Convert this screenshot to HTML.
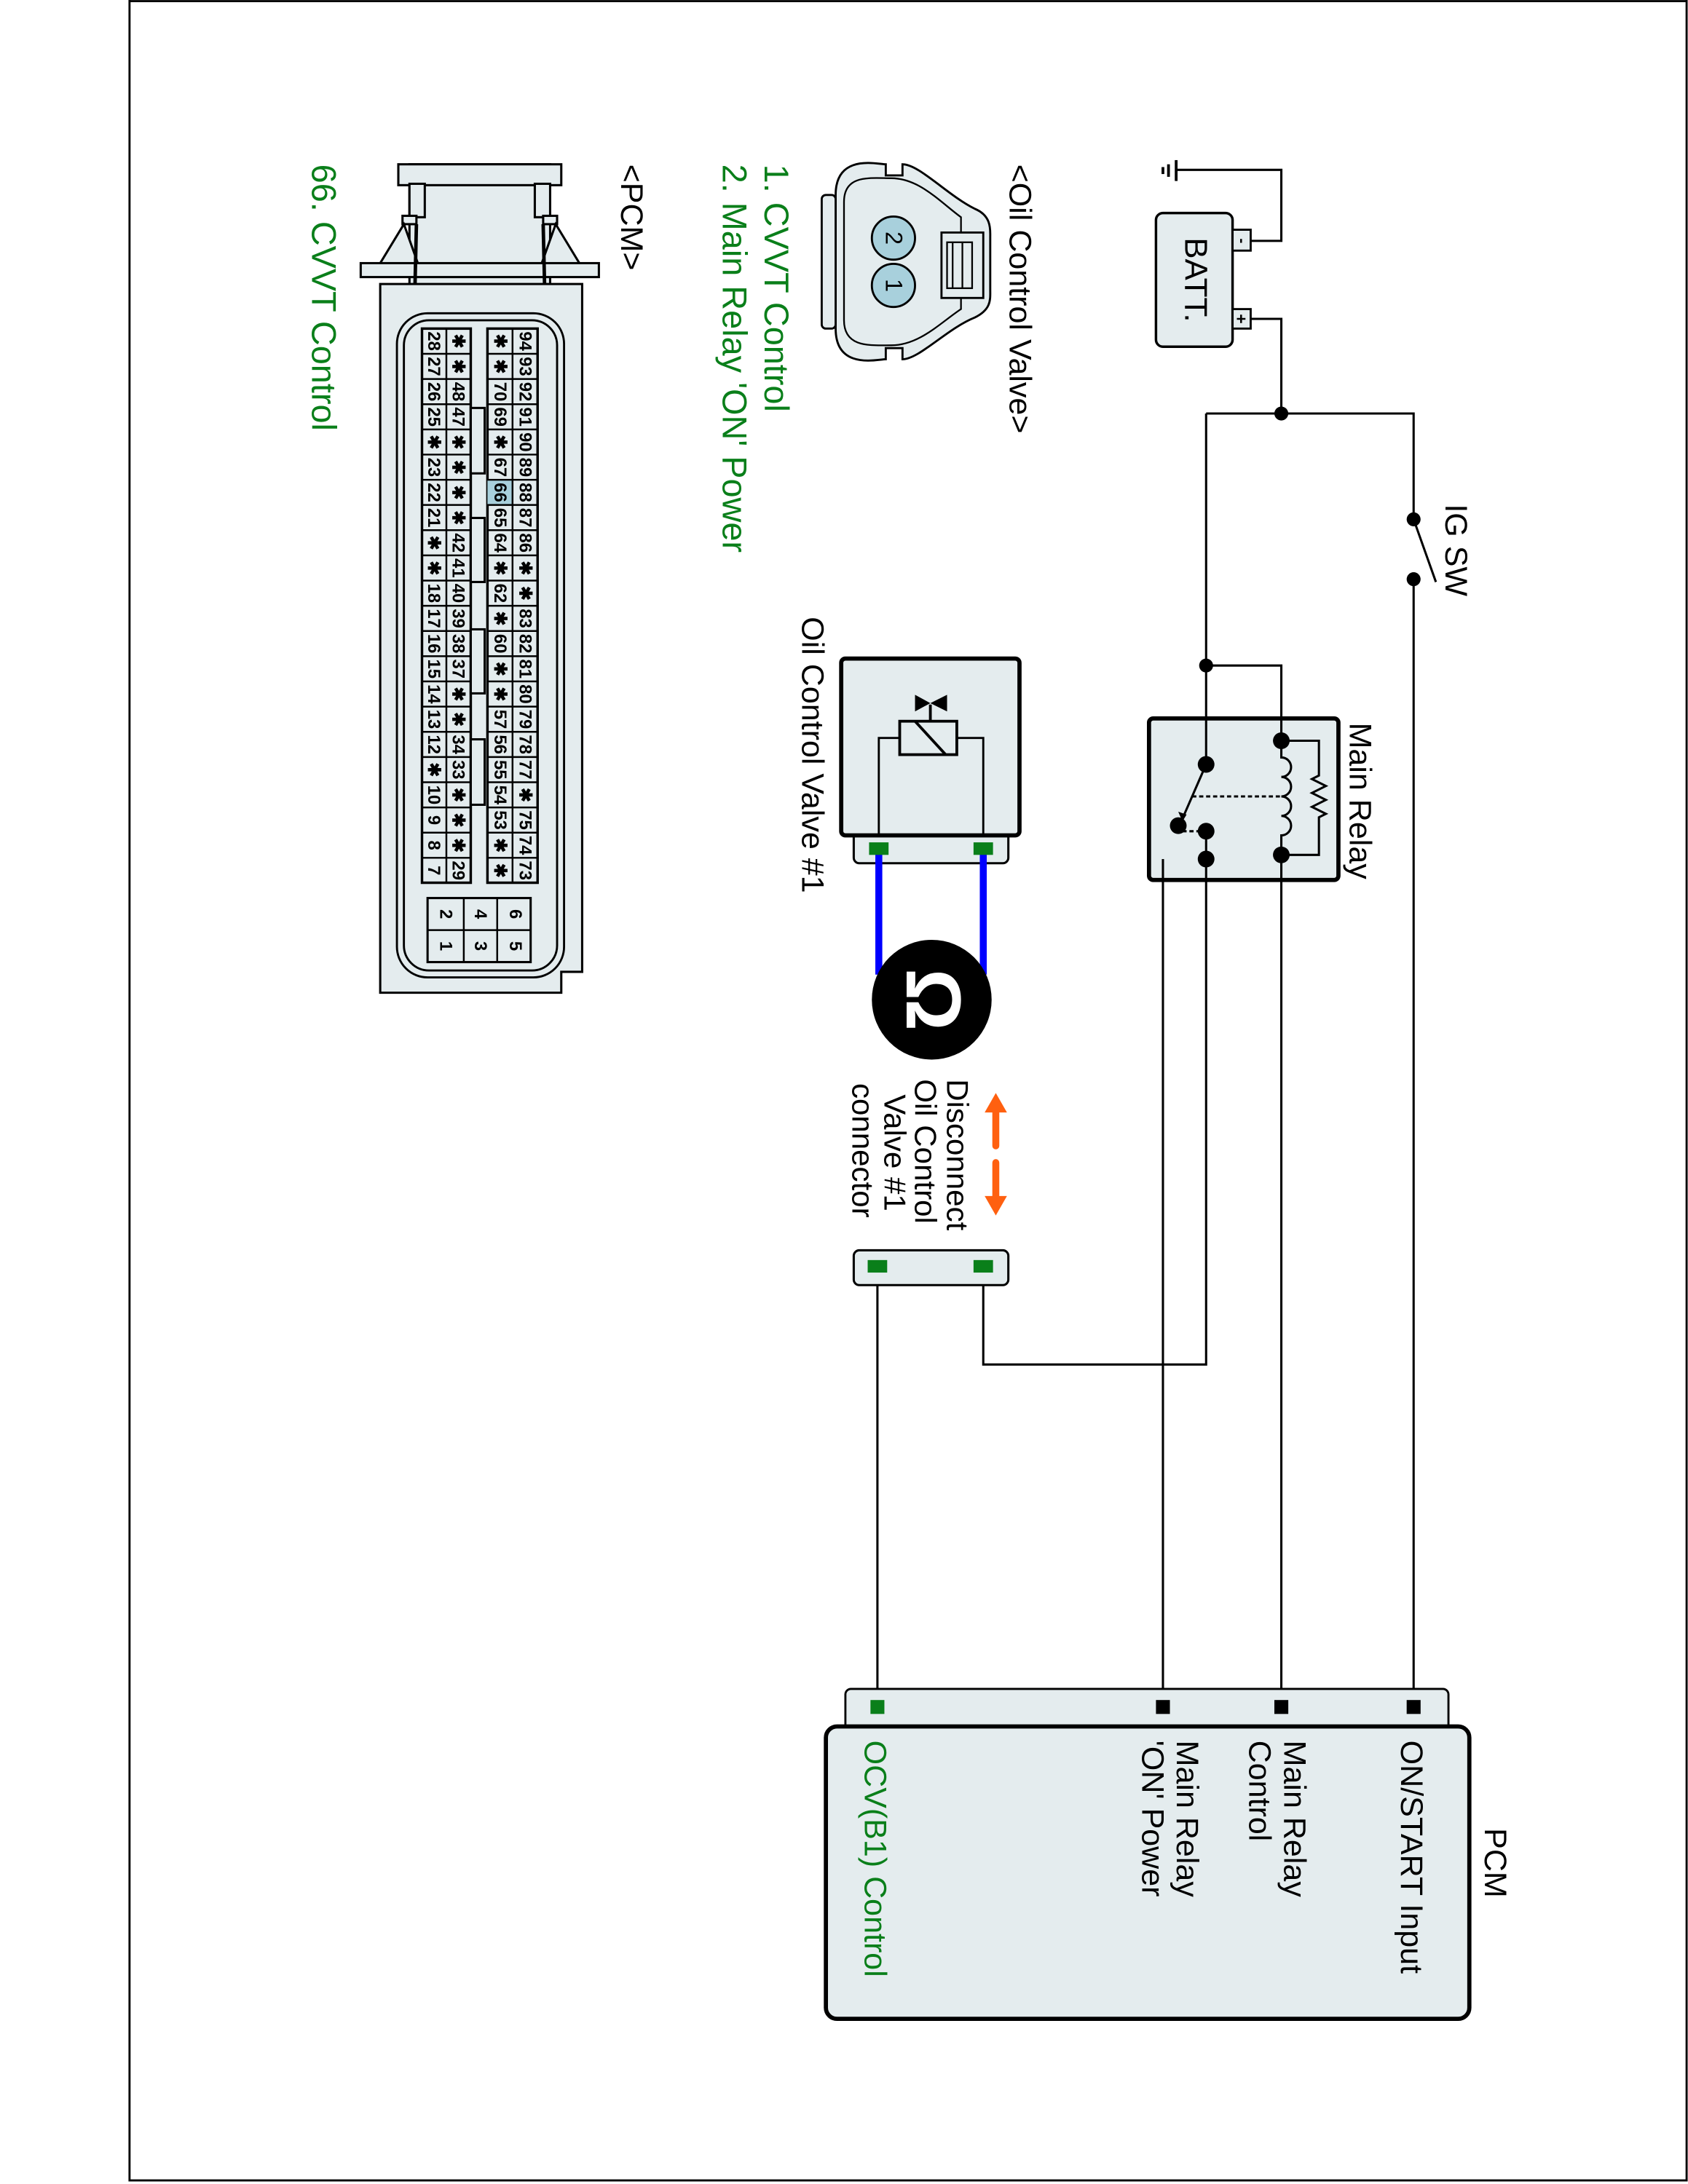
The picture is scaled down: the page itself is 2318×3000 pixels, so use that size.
<!DOCTYPE html>
<html><head><meta charset="utf-8"><style>
html,body{margin:0;padding:0;background:#fff;}
svg{display:block;}
text{font-family:"Liberation Sans",Arial,sans-serif;}
</style></head><body>
<svg width="2318" height="3000" viewBox="0 0 1212 1568.6" preserveAspectRatio="none" xmlns="http://www.w3.org/2000/svg">
<rect x="0" y="0" width="1212" height="1568.6" fill="#fff"/>
<path d="M93,0 V1566 H1211 V0" fill="none" stroke="#000" stroke-width="1.5"/>
<line x1="93" y1="0.8" x2="1211" y2="0.8" stroke="#000" stroke-width="1.5"/>

<g stroke="#000" stroke-width="1.6" fill="none">
<path d="M844.5,122 H920 V173 H898"/>
<line x1="844.5" y1="115" x2="844.5" y2="130" stroke-width="2"/>
<line x1="839" y1="118" x2="839" y2="127" stroke-width="2"/>
<line x1="835" y1="120" x2="835" y2="125" stroke-width="2"/>
<path d="M898,229 H920 V297"/>
<path d="M866,297 H1015 V373"/>
<path d="M1015,416 V1226"/>
<line x1="1015" y1="373" x2="1031" y2="418"/>
<path d="M866,297 V549"/>
<path d="M866,478 H920 V532"/>
<path d="M866,549 V617"/>
<path d="M866,617 V980 H706 V910"/>
<path d="M866,617 H835 V1226"/>
<path d="M920,614 V1226"/>
<path d="M630,910 V1226"/>
</g>

<rect x="830" y="153" width="55" height="96" rx="5" fill="#e4ecee" stroke="#000" stroke-width="1.8"/>
<rect x="885" y="165" width="13" height="15" fill="#e4ecee" stroke="#000" stroke-width="1.5"/>
<rect x="885" y="222" width="13" height="14" fill="#e4ecee" stroke="#000" stroke-width="1.5"/>
<text transform="translate(888,173) rotate(90)" font-size="11" text-anchor="middle" font-weight="bold">-</text>
<text transform="translate(887,229) rotate(90)" font-size="12" text-anchor="middle" font-weight="bold">+</text>
<text transform="translate(851,201) rotate(90)" font-size="23" text-anchor="middle">BATT.</text>

<g fill="#000">
<circle cx="920" cy="297" r="5"/>
<circle cx="1015" cy="373" r="5"/>
<circle cx="1015" cy="416" r="5"/>
<circle cx="866" cy="478" r="5"/>
</g>
<text transform="translate(1038,362) rotate(90)" font-size="22.5">IG SW</text>

<rect x="825" y="516" width="136" height="116" rx="3" fill="#e4ecee" stroke="#000" stroke-width="3"/>
<g stroke="#000" stroke-width="1.6" fill="none">
<line x1="866" y1="516" x2="866" y2="549"/>
<line x1="920" y1="516" x2="920" y2="532"/>
<path d="M920,532 H947 V557 l-5,2.5 l10,5 l-10,5 l10,5 l-10,5 l10,5 l-5,2.5 V614 H920"/>
<path d="M920,532 V544 a7,7 0 0 1 0,14 a7,7 0 0 1 0,14 a7,7 0 0 1 0,14 a7,7 0 0 1 0,14 V614"/>
<line x1="866" y1="549" x2="849" y2="588"/>
<line x1="856" y1="572" x2="920" y2="572" stroke-dasharray="3,2"/>
<path d="M849,597 H866" stroke-dasharray="3,2"/>
<line x1="866" y1="597" x2="866" y2="632"/>
<line x1="835" y1="617" x2="835" y2="632"/>
<line x1="920" y1="614" x2="920" y2="632"/>
</g>
<path d="M849,590 l-3,-7 l6,2 z" fill="#000"/>
<g fill="#000">
<circle cx="866" cy="549" r="6"/>
<circle cx="846" cy="593" r="6"/>
<circle cx="866" cy="597" r="6"/>
<circle cx="866" cy="617" r="6"/>
<circle cx="920" cy="532" r="6"/>
<circle cx="920" cy="614" r="6"/>
</g>
<text transform="translate(969,519) rotate(90)" font-size="22.5">Main Relay</text>

<rect x="613" y="595" width="111" height="25" rx="4" fill="#e4ecee" stroke="#000" stroke-width="1.6"/>
<rect x="604" y="473" width="128" height="127" rx="3" fill="#e4ecee" stroke="#000" stroke-width="3"/>
<g stroke="#000" stroke-width="1.5" fill="none">
<path d="M631,600 V530 H646"/>
<path d="M706,600 V530 H687"/>
<rect x="646" y="518" width="41" height="24" stroke-width="2"/>
<line x1="657" y1="518" x2="679" y2="542" stroke-width="2"/>
<line x1="668" y1="518" x2="668" y2="506" stroke-width="2"/>
</g>
<path d="M657,499 L668,505 L680,499 V511 L668,505 L657,511 Z" fill="#000"/>
<g stroke="#0000ff" stroke-width="5">
<line x1="631" y1="613" x2="631" y2="700"/>
<line x1="706" y1="613" x2="706" y2="700"/>
</g>
<rect x="624" y="605" width="14" height="9" fill="#0a7f1a"/>
<rect x="699" y="605" width="14" height="9" fill="#0a7f1a"/>
<text transform="translate(576,443) rotate(90)" font-size="22.5">Oil Control Valve #1</text>

<circle cx="669" cy="718" r="43" fill="#000"/>
<text transform="translate(651,718) rotate(90)" font-size="56" font-weight="bold" fill="#fff" text-anchor="middle">Ω</text>

<g stroke="#ff6010" stroke-width="5" stroke-linecap="round">
<line x1="715" y1="796" x2="715" y2="823"/>
<line x1="715" y1="835" x2="715" y2="862"/>
</g>
<path d="M707,799 L715,785 L723,799 Z" fill="#ff6010"/>
<path d="M707,859 L715,873 L723,859 Z" fill="#ff6010"/>
<g font-size="22">
<text transform="translate(680,775) rotate(90)">Disconnect</text>
<text transform="translate(657,775) rotate(90)">Oil Control</text>
<text transform="translate(635,786) rotate(90)">Valve #1</text>
<text transform="translate(612,778) rotate(90)">connector</text>
</g>

<rect x="613" y="898" width="111" height="25" rx="4" fill="#e4ecee" stroke="#000" stroke-width="1.6"/>
<rect x="623" y="905" width="14" height="9" fill="#0a7f1a"/>
<rect x="699" y="905" width="14" height="9" fill="#0a7f1a"/>

<rect x="607" y="1213" width="433" height="32" rx="4" fill="#e4ecee" stroke="#000" stroke-width="1.5"/>
<rect x="593" y="1240" width="462" height="210" rx="8" fill="#e4ecee" stroke="#000" stroke-width="3"/>
<rect x="1010" y="1221" width="10" height="10" fill="#000"/>
<rect x="915" y="1221" width="10" height="10" fill="#000"/>
<rect x="830" y="1221" width="10" height="10" fill="#000"/>
<rect x="625" y="1221" width="10" height="10" fill="#0a7f1a"/>
<g font-size="22.5">
<text transform="translate(1066,1313) rotate(90)">PCM</text>
<text transform="translate(1006,1250) rotate(90)">ON/START Input</text>
<text transform="translate(922,1250) rotate(90)">Main Relay</text>
<text transform="translate(897,1250) rotate(90)">Control</text>
<text transform="translate(845,1250) rotate(90)">Main Relay</text>
<text transform="translate(820,1250) rotate(90)">'ON' Power</text>
<text transform="translate(621,1250) rotate(90)" fill="#0a7f1a">OCV(B1) Control</text>
</g>

<text transform="translate(725,118) rotate(90)" font-size="22.5">&lt;Oil Control Valve&gt;</text>
<path d="M600,140 C600,110 630,118 636,118 L636,126 L648,126 L648,118 C660,118 680,140 700,150 C712,155 711,165 711,170 L711,208 C711,215 712,222 700,228 C680,236 660,258 648,258 L648,250 L636,250 L636,258 C630,258 600,266 600,236 Z" fill="#e4ecee" stroke="#000" stroke-width="1.5"/>
<rect x="590" y="140" width="10" height="96" rx="3" fill="#e4ecee" stroke="#000" stroke-width="1.5"/>
<path d="M606,145 C606,125 625,128 640,128 C660,128 675,145 690,156 L690,222 C675,232 660,248 640,248 C625,248 606,250 606,230 Z" fill="none" stroke="#000" stroke-width="1.2"/>
<rect x="676" y="167" width="30" height="47" fill="#e4ecee" stroke="#000" stroke-width="1.5"/>
<rect x="680" y="174" width="18" height="33" fill="none" stroke="#000" stroke-width="1.2"/>
<line x1="684" y1="174" x2="684" y2="207" stroke="#000" stroke-width="1.2"/>
<line x1="691" y1="174" x2="691" y2="207" stroke="#000" stroke-width="1.2"/>
<circle cx="641.5" cy="171" r="15.5" fill="#a8d0dc" stroke="#000" stroke-width="1.5"/>
<circle cx="641.5" cy="205" r="15.5" fill="#a8d0dc" stroke="#000" stroke-width="1.5"/>
<text transform="translate(636,171) rotate(90)" font-size="17" text-anchor="middle">2</text>
<text transform="translate(636,205) rotate(90)" font-size="17" text-anchor="middle">1</text>

<g font-size="24.5" fill="#0a7f1a">
<text transform="translate(549,118) rotate(90)">1. CVVT Control</text>
<text transform="translate(519,118) rotate(90)">2. Main Relay 'ON' Power</text>
<text transform="translate(224,118) rotate(90)">66. CVVT Control</text>
</g>
<text transform="translate(446,118) rotate(90)" font-size="22.5">&lt;PCM&gt;</text>

<g fill="#e4ecee" stroke="#000" stroke-width="1.6">
<rect x="294" y="118" width="101" height="88"/>
<rect x="286" y="118" width="117" height="15"/>
<rect x="294" y="132" width="11" height="24"/>
<rect x="384" y="132" width="11" height="24"/>
<rect x="289" y="155" width="10" height="6"/>
<rect x="390" y="155" width="10" height="6"/>
<path d="M290,161 L273,189 H300 Z"/>
<path d="M399,161 L416,189 H389 Z"/>
<rect x="259" y="189" width="171" height="10"/>
<path d="M273,204 H418 V698 H403 V713 H273 Z"/>
</g>
<line x1="299" y1="161" x2="298" y2="204" stroke="#000" stroke-width="2.5"/>
<line x1="390" y1="161" x2="391" y2="204" stroke="#000" stroke-width="2.5"/>
<rect x="285" y="225" width="120" height="477" rx="22" fill="none" stroke="#000" stroke-width="1.5"/>
<rect x="290" y="230" width="110" height="467" rx="18" fill="none" stroke="#000" stroke-width="1.5"/>

<rect x="350" y="236" width="36" height="398" fill="#e4ecee" stroke="#000" stroke-width="1.8"/>
<rect x="303" y="236" width="35" height="398" fill="#e4ecee" stroke="#000" stroke-width="1.8"/>
<rect x="350" y="344.6" width="18" height="18.1" fill="#a8d0dc"/>
<g stroke="#000" stroke-width="1.3">
<line x1="368" y1="236" x2="368" y2="634"/>
<line x1="320.5" y1="236" x2="320.5" y2="634"/>
<path d="M303,254.1H338M303,272.2H338M303,290.3H338M303,308.4H338M303,326.5H338M303,344.6H338M303,362.7H338M303,380.8H338M303,398.9H338M303,417H338M303,435.1H338M303,453.2H338M303,471.3H338M303,489.4H338M303,507.5H338M303,525.6H338M303,543.7H338M303,561.8H338M303,579.9H338M303,598H338M303,616.1H338"/>
<path d="M350,254.1H386M350,272.2H386M350,290.3H386M350,308.4H386M350,326.5H386M350,344.6H386M350,362.7H386M350,380.8H386M350,398.9H386M350,417H386M350,435.1H386M350,453.2H386M350,471.3H386M350,489.4H386M350,507.5H386M350,525.6H386M350,543.7H386M350,561.8H386M350,579.9H386M350,598H386M350,616.1H386"/>
</g>
<g fill="#e4ecee" stroke="#000" stroke-width="1.6">
<rect x="338" y="293" width="10" height="47"/>
<rect x="338" y="372" width="10" height="46"/>
<rect x="338" y="452" width="10" height="46"/>
<rect x="338" y="531" width="10" height="47"/>
</g>
<g font-size="12.5" font-weight="bold" text-anchor="middle">
<text transform="translate(373,245) rotate(90)">94</text>
<text transform="translate(373,263.2) rotate(90)">93</text>
<text transform="translate(373,281.3) rotate(90)">92</text>
<text transform="translate(373,299.4) rotate(90)">91</text>
<text transform="translate(373,317.5) rotate(90)">90</text>
<text transform="translate(373,335.6) rotate(90)">89</text>
<text transform="translate(373,353.7) rotate(90)">88</text>
<text transform="translate(373,371.8) rotate(90)">87</text>
<text transform="translate(373,389.9) rotate(90)">86</text>
<text transform="translate(373,408) rotate(90)">✱</text>
<text transform="translate(373,426.1) rotate(90)">✱</text>
<text transform="translate(373,444.2) rotate(90)">83</text>
<text transform="translate(373,462.3) rotate(90)">82</text>
<text transform="translate(373,480.4) rotate(90)">81</text>
<text transform="translate(373,498.5) rotate(90)">80</text>
<text transform="translate(373,516.6) rotate(90)">79</text>
<text transform="translate(373,534.7) rotate(90)">78</text>
<text transform="translate(373,552.8) rotate(90)">77</text>
<text transform="translate(373,570.9) rotate(90)">✱</text>
<text transform="translate(373,589) rotate(90)">75</text>
<text transform="translate(373,607.1) rotate(90)">74</text>
<text transform="translate(373,625.2) rotate(90)">73</text>
<text transform="translate(355,245) rotate(90)">✱</text>
<text transform="translate(355,263.2) rotate(90)">✱</text>
<text transform="translate(355,281.3) rotate(90)">70</text>
<text transform="translate(355,299.4) rotate(90)">69</text>
<text transform="translate(355,317.5) rotate(90)">✱</text>
<text transform="translate(355,335.6) rotate(90)">67</text>
<text transform="translate(355,353.7) rotate(90)">66</text>
<text transform="translate(355,371.8) rotate(90)">65</text>
<text transform="translate(355,389.9) rotate(90)">64</text>
<text transform="translate(355,408) rotate(90)">✱</text>
<text transform="translate(355,426.1) rotate(90)">62</text>
<text transform="translate(355,444.2) rotate(90)">✱</text>
<text transform="translate(355,462.3) rotate(90)">60</text>
<text transform="translate(355,480.4) rotate(90)">✱</text>
<text transform="translate(355,498.5) rotate(90)">✱</text>
<text transform="translate(355,516.6) rotate(90)">57</text>
<text transform="translate(355,534.7) rotate(90)">56</text>
<text transform="translate(355,552.8) rotate(90)">55</text>
<text transform="translate(355,570.9) rotate(90)">54</text>
<text transform="translate(355,589) rotate(90)">53</text>
<text transform="translate(355,607.1) rotate(90)">✱</text>
<text transform="translate(355,625.2) rotate(90)">✱</text>
<text transform="translate(325,245) rotate(90)">✱</text>
<text transform="translate(325,263.2) rotate(90)">✱</text>
<text transform="translate(325,281.3) rotate(90)">48</text>
<text transform="translate(325,299.4) rotate(90)">47</text>
<text transform="translate(325,317.5) rotate(90)">✱</text>
<text transform="translate(325,335.6) rotate(90)">✱</text>
<text transform="translate(325,353.7) rotate(90)">✱</text>
<text transform="translate(325,371.8) rotate(90)">✱</text>
<text transform="translate(325,389.9) rotate(90)">42</text>
<text transform="translate(325,408) rotate(90)">41</text>
<text transform="translate(325,426.1) rotate(90)">40</text>
<text transform="translate(325,444.2) rotate(90)">39</text>
<text transform="translate(325,462.3) rotate(90)">38</text>
<text transform="translate(325,480.4) rotate(90)">37</text>
<text transform="translate(325,498.5) rotate(90)">✱</text>
<text transform="translate(325,516.6) rotate(90)">✱</text>
<text transform="translate(325,534.7) rotate(90)">34</text>
<text transform="translate(325,552.8) rotate(90)">33</text>
<text transform="translate(325,570.9) rotate(90)">✱</text>
<text transform="translate(325,589) rotate(90)">✱</text>
<text transform="translate(325,607.1) rotate(90)">✱</text>
<text transform="translate(325,625.2) rotate(90)">29</text>
<text transform="translate(307.5,245) rotate(90)">28</text>
<text transform="translate(307.5,263.2) rotate(90)">27</text>
<text transform="translate(307.5,281.3) rotate(90)">26</text>
<text transform="translate(307.5,299.4) rotate(90)">25</text>
<text transform="translate(307.5,317.5) rotate(90)">✱</text>
<text transform="translate(307.5,335.6) rotate(90)">23</text>
<text transform="translate(307.5,353.7) rotate(90)">22</text>
<text transform="translate(307.5,371.8) rotate(90)">21</text>
<text transform="translate(307.5,389.9) rotate(90)">✱</text>
<text transform="translate(307.5,408) rotate(90)">✱</text>
<text transform="translate(307.5,426.1) rotate(90)">18</text>
<text transform="translate(307.5,444.2) rotate(90)">17</text>
<text transform="translate(307.5,462.3) rotate(90)">16</text>
<text transform="translate(307.5,480.4) rotate(90)">15</text>
<text transform="translate(307.5,498.5) rotate(90)">14</text>
<text transform="translate(307.5,516.6) rotate(90)">13</text>
<text transform="translate(307.5,534.7) rotate(90)">12</text>
<text transform="translate(307.5,552.8) rotate(90)">✱</text>
<text transform="translate(307.5,570.9) rotate(90)">10</text>
<text transform="translate(307.5,589) rotate(90)">9</text>
<text transform="translate(307.5,607.1) rotate(90)">8</text>
<text transform="translate(307.5,625.2) rotate(90)">7</text>
</g>
<rect x="307" y="645" width="74" height="46" fill="#e4ecee" stroke="#000" stroke-width="1.6"/>
<g stroke="#000" stroke-width="1.3">
<line x1="333" y1="645" x2="333" y2="691"/>
<line x1="357" y1="645" x2="357" y2="691"/>
<line x1="307" y1="668" x2="381" y2="668"/>
</g>
<g font-size="12.5" font-weight="bold" text-anchor="middle">
<text transform="translate(366,656.5) rotate(90)">6</text>
<text transform="translate(366,679.5) rotate(90)">5</text>
<text transform="translate(341,656.5) rotate(90)">4</text>
<text transform="translate(341,679.5) rotate(90)">3</text>
<text transform="translate(316,656.5) rotate(90)">2</text>
<text transform="translate(316,679.5) rotate(90)">1</text>
</g>
</svg>
</body></html>
